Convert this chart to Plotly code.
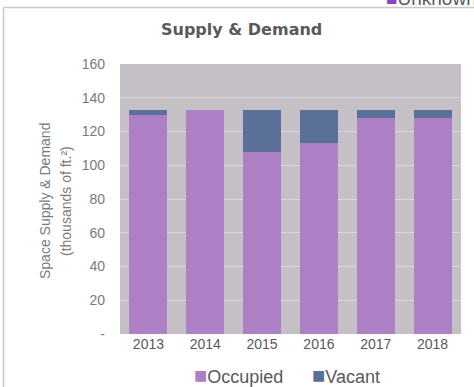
import plotly.graph_objects as go

# Space supply and demand, thousands of sq. ft.
years = ["2013", "2014", "2015", "2016", "2017", "2018"]
occupied = [130, 133, 108, 113, 128, 128]
vacant = [3, 0, 25, 20, 5, 5]

y_tick_vals = [0, 20, 40, 60, 80, 100, 120, 140, 160]
y_tick_text = ["-", "20", "40", "60", "80", "100", "120", "140", "160"]

OCC_COLOR = "#AD80C6"
VAC_COLOR = "#5B7098"
TEXT = "#595959"
FONT = "Liberation Sans, Arial, sans-serif"

W, H = 474, 387
ML, MR, MT, MB = 120, 13, 64, 53
PW, PH = W - ML - MR, H - MT - MB


def px(x):
    return (x - ML) / PW


def py(y):
    return (H - MB - y) / PH


def swatch(color):
    return f'<span style="color:{color};font-size:22px">■</span>'


fig = go.Figure()
fig.add_trace(go.Bar(x=years, y=occupied, name="Occupied",
                     marker=dict(color=OCC_COLOR, line=dict(width=0))))
fig.add_trace(go.Bar(x=years, y=vacant, name="Vacant",
                     marker=dict(color=VAC_COLOR, line=dict(width=0))))

annotations = [
    dict(text="<b>Supply & Demand</b>", x=px(241), y=py(30), xref="paper", yref="paper",
         showarrow=False, xanchor="center", yanchor="middle",
         font=dict(family="DejaVu Sans, sans-serif", size=16, color=TEXT)),
    dict(text="Space Supply & Demand", x=px(45), y=py(201), xref="paper", yref="paper",
         showarrow=False, textangle=-90, xanchor="center", yanchor="middle",
         font=dict(family=FONT, size=14, color="#7a7a7a")),
    dict(text="(thousands of ft.²)", x=px(66), y=py(201), xref="paper", yref="paper",
         showarrow=False, textangle=-90, xanchor="center", yanchor="middle",
         font=dict(family=FONT, size=14, color="#7a7a7a")),
    dict(text=swatch(OCC_COLOR) + "Occupied", x=px(192), y=py(375),
         xref="paper", yref="paper", showarrow=False, xanchor="left", yanchor="middle",
         font=dict(family=FONT, size=18, color=TEXT)),
    dict(text=swatch(VAC_COLOR) + "Vacant", x=px(310), y=py(375),
         xref="paper", yref="paper", showarrow=False, xanchor="left", yanchor="middle",
         font=dict(family=FONT, size=18, color=TEXT)),
    dict(text='<span style="color:#8A45BE">■</span>Unknown', x=px(384), y=py(11),
         xref="paper", yref="paper", showarrow=False, xanchor="left", yanchor="bottom",
         font=dict(family=FONT, size=19, color=TEXT)),
]

shapes = [
    dict(type="line", xref="paper", yref="paper", x0=px(3.5), x1=px(W), y0=py(7.5), y1=py(7.5),
         line=dict(color="#C8C8C8", width=1.5)),
    dict(type="line", xref="paper", yref="paper", x0=px(3.5), x1=px(3.5), y0=py(7.5), y1=py(H),
         line=dict(color="#C8C8C8", width=1.5)),
]

fig.update_layout(
    width=W, height=H,
    margin=dict(l=ML, r=MR, t=MT, b=MB),
    barmode="stack", bargap=0.33,
    plot_bgcolor="#C4C0C5", paper_bgcolor="white",
    showlegend=False,
    annotations=annotations, shapes=shapes,
    font=dict(family=FONT, color=TEXT),
)
fig.update_xaxes(showgrid=False, showline=False, ticks="", zeroline=False,
                 tickfont=dict(family=FONT, size=14, color=TEXT))
fig.update_yaxes(range=[0, 160], tickvals=y_tick_vals, ticktext=y_tick_text,
                 showgrid=True, gridcolor="#DAD4DC", gridwidth=1, zeroline=False,
                 showline=False, ticks="", ticklabelstandoff=14,
                 tickfont=dict(family=FONT, size=14, color="#7a7a7a"))

fig.write_html("out.html")
